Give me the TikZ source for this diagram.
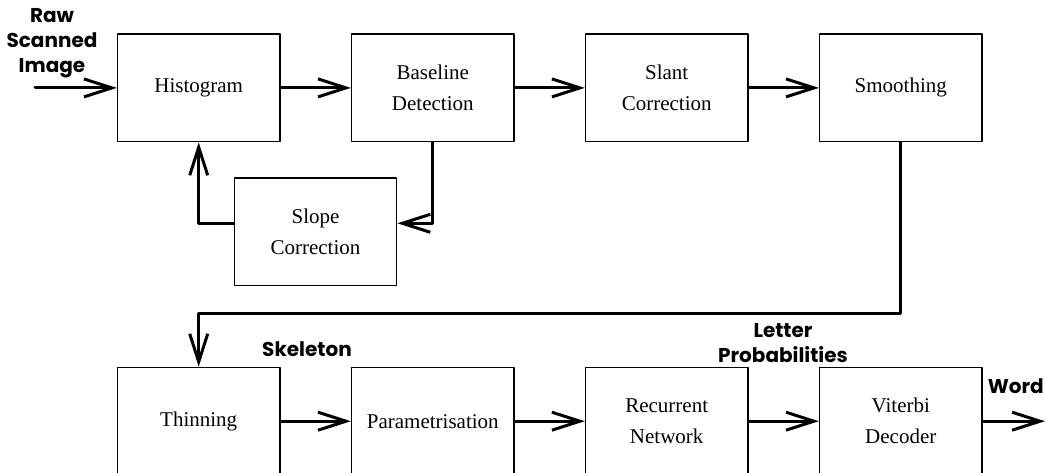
\documentclass[tikz,border=0pt]{standalone}
\usepackage{fontspec}
\setmainfont{Liberation Serif}
\newfontfamily\labelfont{Poppins}
\usetikzlibrary{positioning,arrows.meta}

\tikzset{
  stage/.style={draw, line width=1.3pt, minimum width=162.5pt, minimum height=107.7pt,
    align=center, font=\fontsize{21}{31}\selectfont},
  flow/.style={line width=3pt, -{Straight Barb[length=28pt,width=18pt]}},
  tag/.style={align=center, font=\labelfont\bfseries\fontsize{20}{25}\selectfont}
}

\begin{document}
\begin{tikzpicture}[x=1pt,y=-1pt, line cap=round, line join=round]
\useasboundingbox (0,0) rectangle (1045,472);
\clip (0,0) rectangle (1045,472);

% top row
\node[stage] (hist) at (198.7,87.9) {Histogram};
\node[stage] (base) at (432.8,87.9) {Baseline\\Detection};
\node[stage] (slant) at (666.7,87.9) {Slant\\Correction};
\node[stage] (smooth) at (900.8,87.9) {Smoothing};

% feedback box
\node[stage] (slope) at (315.5,231.7) {Slope\\Correction};

% bottom row
\node[stage] (thin) at (198.7,421.2) {Thinning};
\node[stage] (param) at (432.8,421.2) {Parametrisation};
\node[stage] (rnn) at (666.7,421.2) {Recurrent\\Network};
\node[stage] (viterbi) at (900.8,421.2) {Viterbi\\Decoder};

% labels
\node[tag] (raw) at (52,43) {Raw\\Scanned\\Image};
\node[tag] (skel) at (307,349) {Skeleton};
\node[tag] (letter) at (783,343) {Letter\\Probabilities};
\node[tag, anchor=east, inner xsep=1pt] (word) at (1045,386) {Word};

% free ends
\coordinate (in) at (35,87.9);
\coordinate (out) at (1045,421.2);

% connectors
\draw[flow] (in) -- (hist.west);
\draw[flow] (hist.east) -- (base.west);
\draw[flow] (base.east) -- (slant.west);
\draw[flow] (slant.east) -- (smooth.west);
\draw[flow] (base.south) |- ([yshift=8.4pt]slope.east);
\draw[flow] ([yshift=8.4pt]slope.west) -| (hist.south);
\draw[flow] (smooth.south) -- ++(0,171) -| (thin.north);
\draw[flow] (thin.east) -- (param.west);
\draw[flow] (param.east) -- (rnn.west);
\draw[flow] (rnn.east) -- (viterbi.west);
\draw[flow] (viterbi.east) -- (out);
\end{tikzpicture}
\end{document}
